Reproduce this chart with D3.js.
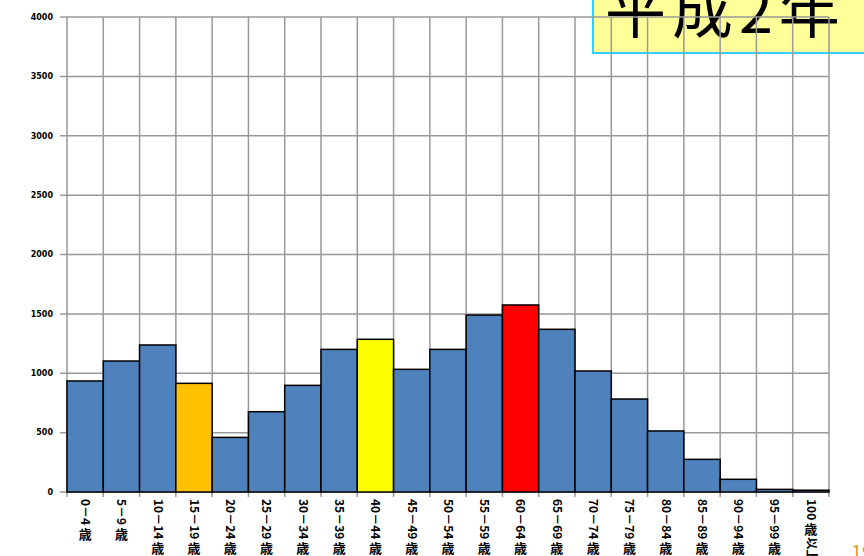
<!DOCTYPE html>
<html>
<head>
<meta charset="utf-8">
<script src="https://cdn.jsdelivr.net/npm/d3@7"></script>
<style>
  body { margin: 0; background: #fff; overflow: hidden; }
  svg { display: block; }
</style>
</head>
<body>
<div id="chart"></div>
<script>
const ageGroups = ["0－4歳", "5－9歳", "10－14歳", "15－19歳", "20－24歳", "25－29歳", "30－34歳",
  "35－39歳", "40－44歳", "45－49歳", "50－54歳", "55－59歳", "60－64歳", "65－69歳", "70－74歳",
  "75－79歳", "80－84歳", "85－89歳", "90－94歳", "95－99歳", "100歳以上"];
const population = [935, 1103, 1238, 915, 460, 676, 898, 1201, 1286, 1033, 1201,
  1490, 1575, 1370, 1019, 783, 514, 275, 107, 22, 15];
const highlight = { "15－19歳": "#FFC000", "40－44歳": "#FFFF00", "60－64歳": "#FF0000" };
const yTicks = [0, 500, 1000, 1500, 2000, 2500, 3000, 3500, 4000];

const width = 864, height = 556;
const plotLeft = 67, plotRight = 829, plotTop = 17, plotBottom = 492;
const labelFont = "'Noto Sans CJK JP', sans-serif";

const svg = d3.select("#chart").append("svg")
    .attr("width", width)
    .attr("height", height);

// title box (sits behind the grid)
svg.append("rect")
    .attr("x", 593).attr("y", -20)
    .attr("width", 300).attr("height", 73)
    .attr("fill", "#FFFF99")
    .attr("stroke", "#33CCFF")
    .attr("stroke-width", 2);

svg.append("text")
    .attr("x", 605).attr("y", 33)
    .attr("font-family", labelFont)
    .attr("font-size", 61)
    .attr("letter-spacing", 6)
    .attr("fill", "#000")
    .text("平成2年");

const x = d3.scaleBand().domain(ageGroups).range([plotLeft, plotRight]).padding(0);
const y = d3.scaleLinear().domain([0, 4000]).range([plotBottom, plotTop]);

// grid
svg.append("g").selectAll("line")
    .data(yTicks)
    .enter().append("line")
    .attr("x1", plotLeft - 7).attr("x2", plotRight)
    .attr("y1", d => y(d)).attr("y2", d => y(d))
    .attr("stroke", "#999").attr("stroke-width", 1.5);

const edges = ageGroups.map(d => x(d)).concat([plotRight]);
svg.append("g").selectAll("line")
    .data(edges)
    .enter().append("line")
    .attr("x1", d => d).attr("x2", d => d)
    .attr("y1", plotTop).attr("y2", plotBottom + 5)
    .attr("stroke", "#999").attr("stroke-width", 1.5);

// bars
svg.append("g").selectAll("rect")
    .data(population)
    .enter().append("rect")
    .attr("x", (d, i) => x(ageGroups[i]))
    .attr("y", d => y(d))
    .attr("width", x.bandwidth())
    .attr("height", d => plotBottom - y(d))
    .attr("fill", (d, i) => highlight[ageGroups[i]] || "#4F81BD")
    .attr("stroke", "#000")
    .attr("stroke-width", 1.5);

// y axis labels
svg.append("g").selectAll("text")
    .data(yTicks)
    .enter().append("text")
    .attr("x", 53)
    .attr("y", d => y(d))
    .attr("dy", "0.35em")
    .attr("text-anchor", "end")
    .attr("font-family", "'DejaVu Sans', sans-serif")
    .attr("font-size", 8)
    .attr("font-weight", "bold")
    .attr("fill", "#000")
    .text(d => d);

// x axis labels: stacked top to bottom, digits turned sideways, 歳 upright
function splitLabel(s) {
    let parts = [], cur = "";
    for (const ch of s) {
        if (ch === "歳") {
            if (cur) parts.push({ t: cur, turn: true });
            parts.push({ t: ch, turn: false });
            cur = "";
        } else {
            cur += ch;
        }
    }
    if (cur) parts.push({ t: cur, turn: true });
    return parts;
}

const fs = 12;
ageGroups.forEach(label => {
    const g = svg.append("g")
        .attr("transform", `translate(${x(label) + x.bandwidth() / 2},499)`);
    let pos = 0;
    splitLabel(label).forEach(p => {
        if (p.turn) {
            const t = g.append("text")
                .attr("transform", `translate(0,${pos}) rotate(90)`)
                .attr("dy", "0.35em")
                .attr("font-family", labelFont)
                .attr("font-size", fs)
                .attr("font-weight", "bold")
                .attr("fill", "#000")
                .text(p.t);
            pos += t.node().getComputedTextLength() + 2;
        } else {
            g.append("text")
                .attr("y", pos + 13 * 0.88)
                .attr("text-anchor", "middle")
                .attr("font-family", labelFont)
                .attr("font-size", 13)
                .attr("font-weight", "bold")
                .attr("fill", "#000")
                .text(p.t);
            pos += 15;
        }
    });
});

// page number, cut off at the edge
svg.append("text")
    .attr("x", 851).attr("y", 560)
    .attr("font-family", labelFont)
    .attr("font-size", 20)
    .attr("fill", "#D9A035")
    .text("19");
</script>
</body>
</html>
